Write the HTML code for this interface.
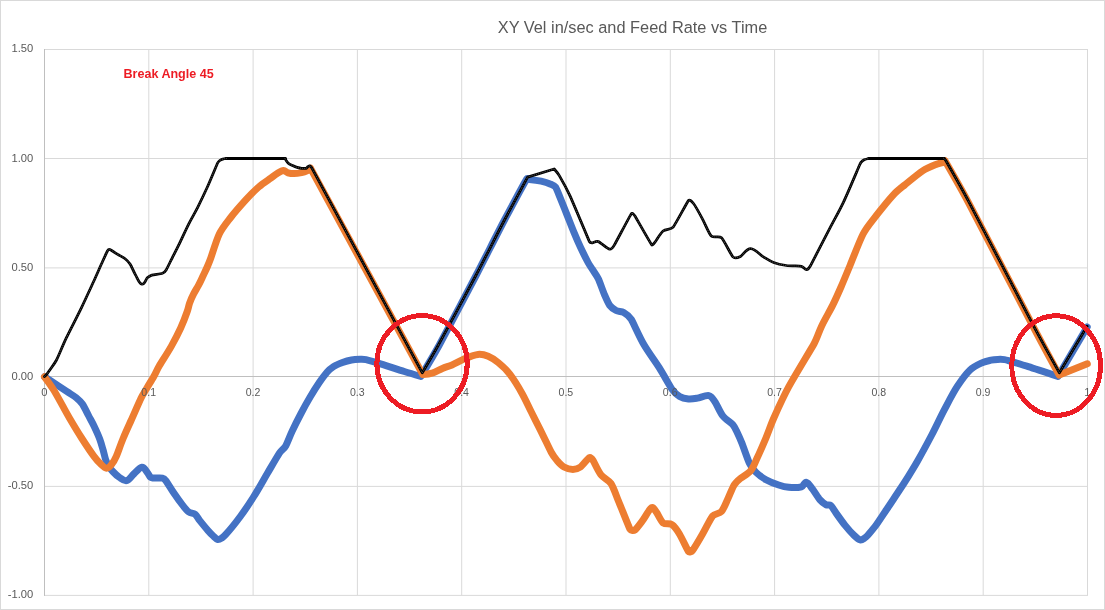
<!DOCTYPE html>
<html><head><meta charset="utf-8"><title>XY Vel in/sec and Feed Rate vs Time</title>
<style>html,body{margin:0;padding:0;background:#fff}svg{display:block}text{font-family:"Liberation Sans",sans-serif}</style></head><body>
<svg width="1105" height="610" viewBox="0 0 1105 610">
<rect x="0" y="0" width="1105" height="610" fill="#fff"/>
<rect x="0.5" y="0.5" width="1104" height="609" fill="none" stroke="#D9D9D9" stroke-width="1"/>
<g stroke="#D9D9D9" stroke-width="1"><line x1="148.8" y1="49.5" x2="148.8" y2="595.4"/><line x1="253.1" y1="49.5" x2="253.1" y2="595.4"/><line x1="357.4" y1="49.5" x2="357.4" y2="595.4"/><line x1="461.7" y1="49.5" x2="461.7" y2="595.4"/><line x1="566.0" y1="49.5" x2="566.0" y2="595.4"/><line x1="670.3" y1="49.5" x2="670.3" y2="595.4"/><line x1="774.6" y1="49.5" x2="774.6" y2="595.4"/><line x1="878.9" y1="49.5" x2="878.9" y2="595.4"/><line x1="983.2" y1="49.5" x2="983.2" y2="595.4"/><line x1="1087.5" y1="49.5" x2="1087.5" y2="595.4"/><line x1="44" y1="49.5" x2="1088" y2="49.5"/><line x1="44" y1="158.5" x2="1088" y2="158.5"/><line x1="44" y1="267.9" x2="1088" y2="267.9"/><line x1="44" y1="486.4" x2="1088" y2="486.4"/><line x1="44" y1="595.4" x2="1088" y2="595.4"/></g>
<g stroke="#BFBFBF" stroke-width="1"><line x1="44.5" y1="49.0" x2="44.5" y2="595.9"/><line x1="44" y1="376.5" x2="1088" y2="376.5"/></g>
<text x="632.5" y="33" text-anchor="middle" font-size="16.35" fill="#595959">XY Vel in/sec and Feed Rate vs Time</text>
<text x="123.5" y="78" font-size="12.55" font-weight="bold" fill="#ED1C24">Break Angle 45</text>
<path d="M44.5,376.8C44.5,376.8 55.0,383.6 58.0,385.6C61.0,387.6 64.1,389.7 67.1,391.7C70.1,393.7 73.8,395.7 76.1,397.6C78.4,399.5 80.7,401.5 82.4,404.0C84.1,406.5 86.7,412.0 88.5,415.5C90.3,419.0 92.3,422.4 94.0,426.0C95.7,429.6 98.5,435.7 99.8,439.2C101.1,442.7 102.2,446.9 103.1,450.0C104.0,453.1 104.9,457.4 105.6,459.5C106.3,461.6 107.2,463.6 108.3,465.5C109.4,467.4 111.1,469.7 112.8,471.5C114.5,473.3 117.2,476.0 119.4,477.4C121.6,478.8 124.0,481.2 126.6,480.6C129.2,480.0 131.4,476.1 133.8,474.0C136.2,471.9 139.4,467.5 141.9,467.2C144.4,466.9 146.0,471.0 147.3,472.5C148.6,474.0 149.9,476.8 150.5,477.4C151.1,478.0 152.1,478.0 153.0,478.1C153.9,478.2 161.1,477.8 162.5,478.1C163.9,478.4 165.1,479.6 166.0,480.8C166.9,482.0 170.9,488.6 173.5,492.4C176.1,496.2 180.6,502.5 182.5,505.0C184.4,507.5 187.0,510.7 188.8,512.0C190.6,513.3 193.3,512.9 195.1,514.3C196.9,515.7 198.0,518.4 199.6,520.4C201.2,522.4 206.1,528.4 207.8,530.3C209.5,532.2 211.5,534.4 213.0,535.8C214.5,537.2 216.1,539.2 217.7,539.5C219.3,539.8 220.8,538.6 222.2,537.7C223.6,536.8 224.7,535.6 225.8,534.4C226.9,533.2 235.7,522.7 240.3,516.5C244.9,510.3 249.5,503.3 253.8,496.5C258.1,489.7 263.3,480.3 267.3,473.5C271.3,466.7 277.6,455.8 279.4,453.1C281.2,450.4 284.1,448.7 285.7,445.9C287.3,443.1 289.8,436.2 292.0,431.5C294.2,426.8 298.1,419.0 301.0,413.5C303.9,408.0 307.1,402.2 310.0,397.3C312.9,392.4 316.6,386.5 319.1,382.8C321.6,379.1 325.4,374.1 327.2,372.0C329.0,369.9 331.2,368.1 333.5,366.6C335.8,365.1 339.6,363.6 342.5,362.5C345.4,361.4 348.5,360.5 351.5,360.0C354.5,359.5 358.7,359.3 360.5,359.2C362.3,359.1 364.2,359.2 366.0,359.6C367.8,360.0 374.6,362.0 378.9,363.3C383.2,364.6 398.8,369.8 404.3,371.5C409.8,373.2 420.9,376.4 420.9,376.4C420.9,376.4 433.5,355.6 439.3,345.0C445.1,334.4 466.8,293.3 476.3,275.0C485.8,256.7 497.2,233.8 504.5,220.0C511.8,206.2 526.3,179.6 526.8,178.8C527.3,178.0 528.5,179.3 529.4,179.4C530.3,179.5 538.0,180.5 541.1,181.2C544.2,181.9 548.2,183.1 550.1,183.9C552.0,184.7 554.3,185.4 555.5,187.1C556.7,188.8 558.5,193.7 559.9,197.1C561.3,200.5 564.7,209.1 567.1,215.1C569.5,221.1 572.3,228.4 574.3,233.2C576.3,238.0 578.4,242.9 580.6,247.6C582.8,252.3 586.5,259.5 587.8,262.0C589.1,264.5 590.8,266.8 592.3,269.2C593.8,271.6 596.7,275.4 598.3,278.8C599.9,282.2 603.1,291.5 604.6,295.0C606.1,298.5 608.1,303.2 609.7,305.4C611.3,307.6 613.8,309.3 616.1,310.5C618.4,311.7 621.4,311.2 623.7,312.5C626.0,313.8 629.5,316.5 631.3,319.4C633.1,322.3 639.4,336.9 644.0,344.8C648.6,352.7 654.8,360.6 659.2,367.7C663.6,374.8 670.0,386.4 672.0,389.2C674.0,392.0 676.9,394.8 679.6,396.4C682.3,398.0 685.5,398.6 688.5,398.9C691.5,399.2 694.5,398.6 697.4,398.1C700.3,397.6 705.9,395.0 708.8,395.6C711.7,396.2 713.4,399.5 715.1,402.0C716.8,404.5 720.0,412.4 722.8,415.9C725.6,419.4 731.1,422.7 732.9,424.8C734.7,426.9 735.8,429.5 737.0,432.0C738.2,434.5 740.3,439.2 741.8,442.9C743.3,446.6 747.8,459.9 749.4,463.2C751.0,466.5 753.2,469.5 755.8,472.1C758.4,474.7 762.3,477.6 766.0,479.7C769.7,481.8 775.4,483.9 778.7,485.0C782.0,486.1 785.4,487.0 788.8,487.3C792.2,487.6 799.3,487.4 801.5,486.8C803.7,486.2 804.3,481.8 806.5,482.3C808.7,482.8 810.7,486.8 812.6,489.2C814.5,491.6 818.0,497.5 819.8,499.6C821.6,501.7 824.9,504.1 826.2,504.8C827.5,505.5 829.5,504.4 830.7,505.4C831.9,506.4 834.3,510.6 836.1,513.1C837.9,515.6 842.3,521.9 845.1,525.4C847.9,528.9 852.2,533.6 854.1,535.4C856.0,537.2 859.0,539.6 860.4,540.0C861.8,540.4 863.3,539.0 864.5,538.2C865.7,537.4 866.8,536.5 867.7,535.4C868.6,534.3 873.3,528.9 875.8,525.5C878.3,522.1 883.0,514.8 886.6,509.5C890.2,504.2 893.8,498.7 897.4,493.3C901.0,487.9 905.1,481.6 908.2,476.6C911.3,471.6 914.4,466.6 917.3,461.5C920.2,456.4 927.3,443.4 931.7,435.0C936.1,426.6 940.3,417.3 944.4,409.6C948.5,401.9 953.3,392.5 957.1,386.7C960.9,380.9 966.2,373.6 969.8,370.2C973.4,366.8 979.8,363.9 982.5,362.6C985.2,361.3 988.8,360.7 991.0,360.2C993.2,359.7 995.6,359.5 997.8,359.4C1000.0,359.3 1003.1,359.4 1004.5,359.6C1005.9,359.8 1007.2,360.2 1008.5,360.6C1009.8,361.0 1021.7,364.5 1028.3,366.6C1034.9,368.7 1058.0,376.5 1058.0,376.5C1058.0,376.5 1087.2,327.0 1087.2,327.0" fill="none" stroke="#4472C4" stroke-width="7" stroke-linejoin="round" stroke-linecap="round"/>
<path d="M44.5,376.8C44.5,376.8 50.9,385.4 53.7,390.0C56.5,394.6 61.7,404.1 63.9,408.1C66.1,412.1 68.3,416.1 70.6,420.0C72.9,423.9 77.8,432.1 81.6,438.0C85.4,443.9 91.8,453.4 93.8,456.1C95.8,458.8 98.7,462.1 100.5,463.8C102.3,465.5 104.4,468.1 106.5,468.2C108.6,468.3 110.2,466.1 111.5,464.5C112.8,462.9 115.1,459.1 116.4,456.1C117.7,453.1 120.8,444.0 123.3,438.0C125.8,432.0 128.6,426.0 131.3,420.0C134.0,414.0 139.3,401.7 141.0,398.2C142.7,394.7 144.9,391.4 146.9,388.0C148.9,384.6 151.9,379.9 153.8,376.5C155.7,373.1 157.2,369.4 159.2,366.0C161.2,362.6 168.1,352.0 171.4,346.1C174.7,340.2 178.2,333.5 180.7,328.0C183.2,322.5 186.5,313.6 187.4,311.0C188.3,308.4 188.7,305.7 189.6,303.1C190.5,300.5 192.0,297.0 193.5,294.1C195.0,291.2 197.0,288.1 198.6,285.1C200.2,282.1 201.6,279.0 203.0,276.0C204.4,273.0 205.9,270.0 207.2,267.0C208.5,264.0 209.7,261.0 210.8,258.0C211.9,255.0 216.4,240.0 219.3,234.0C222.2,228.0 226.6,222.8 230.7,217.5C234.8,212.2 242.0,204.1 246.0,199.7C250.0,195.3 255.2,190.1 258.7,187.0C262.2,183.9 267.6,180.4 270.0,178.7C272.4,177.0 275.2,174.7 277.2,173.5C279.2,172.3 281.8,170.6 283.5,170.5C285.2,170.4 286.4,172.3 288.0,172.8C289.6,173.3 292.0,173.6 294.0,173.6C296.0,173.6 299.7,173.0 301.6,172.6C303.5,172.2 305.7,171.4 307.0,170.8C308.3,170.2 310.6,168.3 310.6,168.3C310.6,168.3 422.8,374.6 422.8,374.6C422.8,374.6 429.1,374.0 432.1,373.1C435.1,372.2 439.3,369.7 442.4,368.4C445.5,367.1 448.9,366.3 452.0,365.0C455.1,363.7 461.2,360.2 465.3,358.5C469.4,356.8 474.6,354.7 478.0,354.4C481.4,354.1 485.0,354.9 488.2,356.2C491.4,357.5 495.2,360.1 498.3,362.6C501.4,365.1 506.4,369.7 509.6,373.9C512.8,378.1 518.9,387.8 522.2,393.7C525.5,399.6 528.2,405.8 531.2,411.8C534.2,417.8 537.3,423.8 540.3,429.8C543.3,435.8 549.5,449.0 551.1,452.0C552.7,455.0 554.9,458.1 557.0,460.5C559.1,462.9 561.3,465.5 564.0,467.0C566.7,468.5 570.2,469.5 572.9,469.5C575.6,469.5 578.3,468.6 580.5,467.0C582.7,465.4 587.9,458.3 589.4,457.6C590.9,456.9 592.3,459.3 593.2,460.7C594.1,462.1 598.0,471.0 600.8,474.6C603.6,478.2 608.5,479.7 611.0,483.5C613.5,487.3 616.1,495.3 618.6,501.3C621.1,507.3 629.1,527.7 630.0,529.2C630.9,530.7 633.7,530.8 635.1,529.8C636.5,528.8 640.3,523.6 642.7,520.4C645.1,517.2 649.5,508.8 651.6,507.7C653.7,506.6 655.3,510.8 656.7,512.7C658.1,514.6 660.7,521.0 663.1,522.9C665.5,524.8 669.5,523.0 672.0,524.7C674.5,526.4 677.5,530.8 679.6,534.3C681.7,537.8 687.7,550.6 688.5,551.6C689.3,552.6 691.5,551.8 692.3,550.8C693.1,549.8 699.2,539.9 702.4,534.3C705.6,528.7 710.5,518.5 712.6,516.0C714.7,513.5 719.3,514.0 721.5,511.5C723.7,509.0 725.9,503.1 727.9,498.8C729.9,494.5 732.6,487.3 734.2,484.8C735.8,482.3 738.2,480.3 740.5,478.4C742.8,476.5 748.0,474.1 750.7,470.8C753.4,467.5 755.1,462.4 757.1,458.1C759.1,453.8 763.3,444.2 766.0,437.8C768.7,431.4 770.8,424.8 773.6,418.5C776.4,412.2 783.2,397.0 788.8,386.7C794.4,376.4 811.1,349.2 814.2,343.5C817.3,337.8 819.0,331.5 821.8,325.7C824.6,319.9 829.6,311.4 832.6,305.4C835.6,299.4 838.3,293.2 841.0,287.0C843.7,280.8 847.3,272.0 850.4,264.5C853.5,257.0 859.7,240.5 863.1,234.0C866.5,227.5 871.3,222.0 875.8,216.2C880.3,210.4 890.2,198.3 893.6,194.6C897.0,190.9 901.1,187.9 905.0,184.7C908.9,181.5 918.8,173.3 923.0,170.6C927.2,167.9 934.4,165.1 936.6,164.2C938.8,163.3 943.5,162.3 943.5,162.3C943.5,162.3 945.0,160.8 945.0,160.8C945.0,160.8 960.8,188.2 968.2,202.1C975.6,216.0 1026.0,313.0 1034.2,328.6C1042.4,344.2 1059.2,375.1 1059.2,375.1C1059.2,375.1 1087.3,363.8 1087.3,363.8" fill="none" stroke="#ED7D31" stroke-width="7" stroke-linejoin="round" stroke-linecap="round"/>
<path d="M44.5,376.5C44.5,376.5 46.3,374.8 47.1,373.8C47.9,372.8 49.5,370.4 50.7,368.7C51.9,367.0 54.9,363.1 56.5,360.0C58.1,356.9 62.8,345.4 66.2,338.2C69.6,331.0 77.2,316.6 81.5,307.6C85.8,298.6 91.6,285.9 94.1,280.5C96.6,275.1 99.3,268.7 101.3,264.3C103.3,259.9 107.0,251.7 107.4,251.0C107.8,250.3 108.5,249.3 109.3,249.3C110.1,249.3 111.1,250.3 112.0,250.8C112.9,251.3 115.8,253.2 117.7,254.4C119.6,255.6 122.7,256.9 124.8,258.5C126.9,260.1 128.8,262.1 130.2,264.3C131.6,266.5 133.7,271.9 135.6,275.1C137.5,278.3 139.2,283.6 141.9,284.2C144.6,284.8 146.0,279.0 147.3,277.8C148.6,276.6 150.2,275.6 151.9,275.1C153.6,274.6 160.9,273.9 162.5,273.3C164.1,272.7 165.4,271.2 166.3,269.7C167.2,268.2 171.3,259.6 173.5,255.3C175.7,251.0 177.9,246.7 180.0,242.3C182.1,237.9 186.0,229.4 188.8,223.8C191.6,218.2 194.9,212.9 197.7,207.3C200.5,201.7 203.9,194.7 206.8,188.3C209.7,181.9 217.1,164.0 217.6,163.0C218.1,162.0 218.9,161.2 219.8,160.5C220.7,159.8 221.7,159.4 222.7,159.1C223.7,158.8 227.0,158.4 227.0,158.4C227.0,158.4 284.9,158.4 284.9,158.4C284.9,158.4 286.7,161.7 288.0,162.9C289.3,164.1 291.2,164.9 292.6,165.6C294.0,166.3 295.6,167.0 297.1,167.4C298.6,167.8 300.1,168.2 301.6,168.3C303.1,168.4 305.3,168.5 306.1,168.3C306.9,168.1 307.3,167.1 307.9,166.7C308.5,166.3 309.2,165.8 309.9,165.9C310.6,166.0 311.5,167.4 311.5,167.4C311.5,167.4 422.3,372.8 422.3,372.8C422.3,372.8 433.2,354.4 438.4,345.0C443.6,335.6 466.5,293.2 476.1,275.0C485.7,256.8 496.9,234.4 504.5,220.0C512.1,205.6 527.6,177.1 527.6,177.1C527.6,177.1 554.2,169.0 554.2,169.0C554.2,169.0 557.9,173.2 559.3,175.6C560.7,178.0 566.8,188.9 570.0,195.9C573.2,202.9 589.0,240.7 589.4,241.6C589.8,242.5 591.0,242.9 591.9,242.9C592.8,242.9 596.2,240.9 598.3,241.6C600.4,242.3 607.3,248.8 609.7,249.2C612.1,249.6 613.6,246.2 614.8,244.2C616.0,242.2 630.4,214.9 631.3,213.7C632.2,212.5 634.3,214.9 635.1,216.2C635.9,217.5 650.6,243.4 651.6,244.7C652.6,246.0 654.3,242.9 655.4,241.6C656.5,240.3 660.3,233.3 663.1,231.0C665.9,228.7 670.9,229.9 673.2,227.1C675.5,224.3 687.2,202.0 688.5,200.5C689.8,199.0 692.3,202.0 693.5,203.5C694.7,205.0 699.6,213.6 702.4,218.8C705.2,224.0 708.9,233.6 711.3,236.0C713.7,238.4 719.0,235.4 721.5,237.8C724.0,240.2 731.1,255.1 732.9,256.9C734.7,258.7 738.2,257.5 740.5,256.4C742.8,255.3 746.4,248.6 750.7,248.7C755.0,248.8 760.1,254.9 763.4,256.9C766.7,258.9 770.0,261.1 773.6,262.5C777.2,263.9 782.0,264.9 786.3,265.5C790.6,266.1 799.5,265.9 801.5,266.3C803.5,266.7 804.8,269.7 806.6,269.6C808.4,269.5 809.5,267.4 810.4,265.8C811.3,264.2 824.9,237.8 829.5,228.9C834.1,220.0 839.2,211.2 843.5,202.1C847.8,193.0 858.1,168.4 858.8,166.9C859.5,165.4 860.2,163.5 861.0,162.4C861.8,161.3 862.9,160.3 864.2,159.7C865.5,159.1 869.2,158.5 869.2,158.5C869.2,158.5 943.8,158.4 943.8,158.4C943.8,158.4 945.2,159.5 945.6,160.2C946.0,160.9 961.5,188.0 969.0,202.1C976.5,216.2 1027.1,313.7 1035.0,328.6C1042.9,343.5 1059.4,372.8 1059.4,372.8C1059.4,372.8 1087.1,326.3 1087.1,326.3" fill="none" stroke="#000" stroke-width="2.75" stroke-linejoin="round" stroke-linecap="round"/>
<path d="M226,158.4H285.5M868.5,158.45H944.3" fill="none" stroke="#000" stroke-width="3" stroke-linecap="round"/>
<path d="M44.5,376.5C44.5,376.5 46.3,374.8 47.1,373.8C47.9,372.8 49.5,370.4 50.7,368.7C51.9,367.0 54.9,363.1 56.5,360.0C58.1,356.9 62.8,345.4 66.2,338.2C69.6,331.0 77.2,316.6 81.5,307.6C85.8,298.6 91.6,285.9 94.1,280.5C96.6,275.1 99.3,268.7 101.3,264.3C103.3,259.9 107.0,251.7 107.4,251.0C107.8,250.3 108.5,249.3 109.3,249.3C110.1,249.3 111.1,250.3 112.0,250.8C112.9,251.3 115.8,253.2 117.7,254.4C119.6,255.6 122.7,256.9 124.8,258.5C126.9,260.1 128.8,262.1 130.2,264.3C131.6,266.5 133.7,271.9 135.6,275.1C137.5,278.3 139.2,283.6 141.9,284.2C144.6,284.8 146.0,279.0 147.3,277.8C148.6,276.6 150.2,275.6 151.9,275.1C153.6,274.6 160.9,273.9 162.5,273.3C164.1,272.7 165.4,271.2 166.3,269.7C167.2,268.2 171.3,259.6 173.5,255.3C175.7,251.0 177.9,246.7 180.0,242.3C182.1,237.9 186.0,229.4 188.8,223.8C191.6,218.2 194.9,212.9 197.7,207.3C200.5,201.7 203.9,194.7 206.8,188.3C209.7,181.9 217.1,164.0 217.6,163.0C218.1,162.0 218.9,161.2 219.8,160.5C220.7,159.8 221.7,159.4 222.7,159.1C223.7,158.8 227.0,158.4 227.0,158.4 M284.9,158.4C284.9,158.4 286.7,161.7 288.0,162.9C289.3,164.1 291.2,164.9 292.6,165.6C294.0,166.3 295.6,167.0 297.1,167.4C298.6,167.8 300.1,168.2 301.6,168.3C303.1,168.4 305.3,168.5 306.1,168.3C306.9,168.1 307.3,167.1 307.9,166.7C308.5,166.3 309.2,165.8 309.9,165.9C310.6,166.0 311.5,167.4 311.5,167.4C311.5,167.4 422.3,372.8 422.3,372.8C422.3,372.8 433.2,354.4 438.4,345.0C443.6,335.6 466.5,293.2 476.1,275.0C485.7,256.8 496.9,234.4 504.5,220.0C512.1,205.6 527.6,177.1 527.6,177.1C527.6,177.1 554.2,169.0 554.2,169.0C554.2,169.0 557.9,173.2 559.3,175.6C560.7,178.0 566.8,188.9 570.0,195.9C573.2,202.9 589.0,240.7 589.4,241.6C589.8,242.5 591.0,242.9 591.9,242.9C592.8,242.9 596.2,240.9 598.3,241.6C600.4,242.3 607.3,248.8 609.7,249.2C612.1,249.6 613.6,246.2 614.8,244.2C616.0,242.2 630.4,214.9 631.3,213.7C632.2,212.5 634.3,214.9 635.1,216.2C635.9,217.5 650.6,243.4 651.6,244.7C652.6,246.0 654.3,242.9 655.4,241.6C656.5,240.3 660.3,233.3 663.1,231.0C665.9,228.7 670.9,229.9 673.2,227.1C675.5,224.3 687.2,202.0 688.5,200.5C689.8,199.0 692.3,202.0 693.5,203.5C694.7,205.0 699.6,213.6 702.4,218.8C705.2,224.0 708.9,233.6 711.3,236.0C713.7,238.4 719.0,235.4 721.5,237.8C724.0,240.2 731.1,255.1 732.9,256.9C734.7,258.7 738.2,257.5 740.5,256.4C742.8,255.3 746.4,248.6 750.7,248.7C755.0,248.8 760.1,254.9 763.4,256.9C766.7,258.9 770.0,261.1 773.6,262.5C777.2,263.9 782.0,264.9 786.3,265.5C790.6,266.1 799.5,265.9 801.5,266.3C803.5,266.7 804.8,269.7 806.6,269.6C808.4,269.5 809.5,267.4 810.4,265.8C811.3,264.2 824.9,237.8 829.5,228.9C834.1,220.0 839.2,211.2 843.5,202.1C847.8,193.0 858.1,168.4 858.8,166.9C859.5,165.4 860.2,163.5 861.0,162.4C861.8,161.3 862.9,160.3 864.2,159.7C865.5,159.1 869.2,158.5 869.2,158.5 M943.8,158.4C943.8,158.4 945.2,159.5 945.6,160.2C946.0,160.9 961.5,188.0 969.0,202.1C976.5,216.2 1027.1,313.7 1035.0,328.6C1042.9,343.5 1059.4,372.8 1059.4,372.8C1059.4,372.8 1087.1,326.3 1087.1,326.3" fill="none" stroke="#fff" stroke-opacity="0.5" stroke-width="0.8" stroke-dasharray="0.01 1.9" stroke-linecap="round"/>
<g fill="#595959" font-size="11.2"><text x="33.3" y="52.1" text-anchor="end">1.50</text><text x="33.3" y="162.1" text-anchor="end">1.00</text><text x="33.3" y="271.1" text-anchor="end">0.50</text><text x="33.3" y="379.9" text-anchor="end">0.00</text><text x="33.3" y="489.1" text-anchor="end">-0.50</text><text x="33.3" y="598.3" text-anchor="end">-1.00</text><text x="44.4" y="396" text-anchor="middle">0</text><text x="148.7" y="396" text-anchor="middle" textLength="14.7" lengthAdjust="spacingAndGlyphs">0.1</text><text x="253.0" y="396" text-anchor="middle" textLength="14.7" lengthAdjust="spacingAndGlyphs">0.2</text><text x="357.3" y="396" text-anchor="middle" textLength="14.7" lengthAdjust="spacingAndGlyphs">0.3</text><text x="461.6" y="396" text-anchor="middle" textLength="14.7" lengthAdjust="spacingAndGlyphs">0.4</text><text x="565.9" y="396" text-anchor="middle" textLength="14.7" lengthAdjust="spacingAndGlyphs">0.5</text><text x="670.2" y="396" text-anchor="middle" textLength="14.7" lengthAdjust="spacingAndGlyphs">0.6</text><text x="774.5" y="396" text-anchor="middle" textLength="14.7" lengthAdjust="spacingAndGlyphs">0.7</text><text x="878.8" y="396" text-anchor="middle" textLength="14.7" lengthAdjust="spacingAndGlyphs">0.8</text><text x="983.1" y="396" text-anchor="middle" textLength="14.7" lengthAdjust="spacingAndGlyphs">0.9</text><text x="1087.4" y="396" text-anchor="middle">1</text></g>
<g fill="none" stroke="#ED1C24" stroke-width="5" shape-rendering="crispEdges"><ellipse cx="422.05" cy="363.75" rx="45.15" ry="48.15"/><ellipse cx="1056.15" cy="365.6" rx="44.35" ry="49.8"/></g>
</svg></body></html>
